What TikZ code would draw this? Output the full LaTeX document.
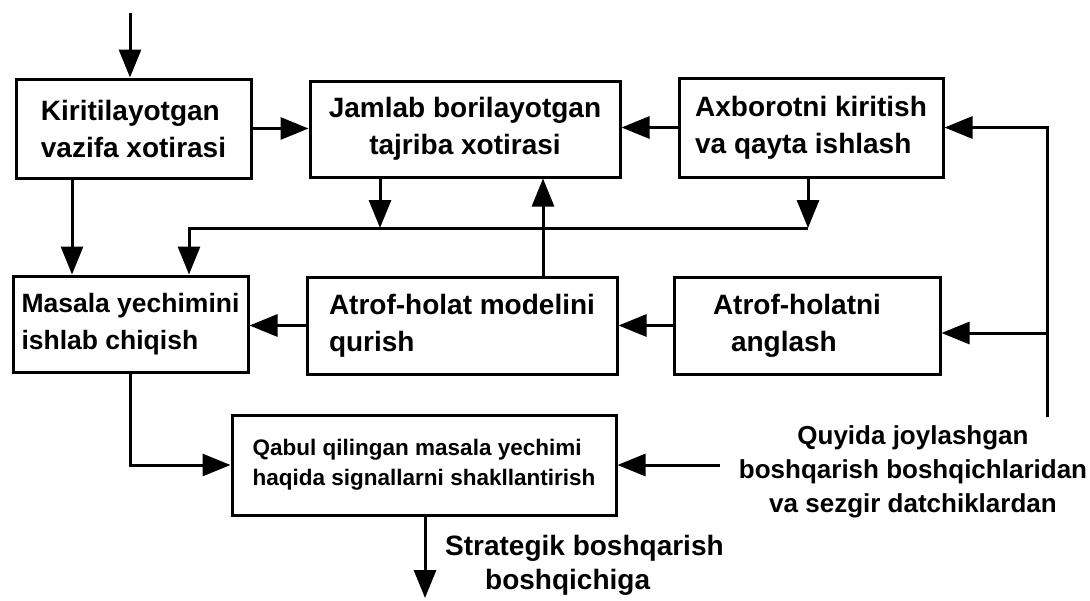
\documentclass[tikz,border=0pt]{standalone}
\usepackage{fontspec}
\setmainfont{Liberation Sans}
\usetikzlibrary{arrows.meta}
\begin{document}
\begin{tikzpicture}[x=1pt,y=-1pt,
  box/.style={draw, line width=3pt, inner sep=0pt, font=\bfseries\fontsize{28}{37}\selectfont},
  smallbox/.style={box, font=\bfseries\fontsize{22.5}{30}\selectfont},
  lab/.style={inner sep=0pt, font=\bfseries\fontsize{26}{34}\selectfont},
  con/.style={line width=3pt, -{Triangle[length=28pt,width=22pt]}},
  ln/.style={line width=3pt}]
\useasboundingbox (0,0) rectangle (1090,600);
% boxes
\node[box, minimum width=235pt, minimum height=99pt, align=left] (kir) at (133.5,128.5) {Kiritilayotgan\\vazifa xotirasi};
\node[box, minimum width=310pt, minimum height=96pt, align=center] (jam) at (465,129) {Jamlab borilayotgan\\tajriba xotirasi};
\node[box, minimum width=264pt, minimum height=99pt, align=left] (ax) at (811,127.5) {Axborotni kiritish\\va qayta ishlash};
\node[box, font=\bfseries\fontsize{26.5}{37}\selectfont, minimum width=235pt, minimum height=96pt, align=left] (mas) at (130.5,324) {Masala yechimini\\ishlab chiqish};
\node[box, minimum width=310pt, minimum height=97pt, align=left] (mod) at (462,325.5) {Atrof-holat modelini\\qurish};
\node[box, minimum width=266pt, minimum height=97pt, align=left] (an) at (807,325.5) {Atrof-holatni\hspace*{20pt}\\\hspace*{18pt}anglash};
\node[smallbox, minimum width=384pt, minimum height=100pt, align=left] (qab) at (424,465) {Qabul qilingan masala yechimi\\haqida signallarni shakllantirish};
% helper coordinates
\coordinate (top) at (130,13);
\coordinate (k72) at (72,0);
\coordinate (busR) at (808,228);
\coordinate (busL) at (189,228);
\coordinate (b2) at (380,228);
\coordinate (up) at (543,0);
\coordinate (fb) at (1047,417);
\coordinate (fb2) at (1047,333);
\coordinate (m130) at (130,465);
\coordinate (rin) at (720,465);
\coordinate (dn) at (425,598);
% connectors
\draw[con] (top) -- (top |- kir.north);
\draw[con] (kir.east) -- (kir.east -| jam.west);
\draw[con] (ax.west) -- (ax.west -| jam.east);
\draw[con] (kir.south -| k72) -- (mas.north -| k72);
\draw[con] (jam.south -| b2) -- (b2);
\draw[con] (ax.south -| busR) -- (busR);
\draw[con] (busR) -- (busL) -- (busL |- mas.north);
\draw[con] (mod.north -| up) -- (jam.south -| up);
\draw[con] (fb) -- (fb |- ax.east) -- (ax.east);
\draw[con] (fb2) -- (fb2 -| an.east);
\draw[con] (an.west) -- (an.west -| mod.east);
\draw[con] (mod.west) -- (mod.west -| mas.east);
\draw[con] (mas.south -| m130) -- (m130) -- (qab.west);
\draw[con] (rin) -- (qab.east);
\draw[con] (qab.south -| dn) -- (dn);
% labels
\node[lab, font=\bfseries\fontsize{28}{34}\selectfont, anchor=west, align=left] (strat) at (445,565) {Strategik boshqarish\\\hspace*{40pt}boshqichiga};
\node[lab, align=center] (quy) at (913,472) {Quyida joylashgan\\boshqarish boshqichlaridan\\va sezgir datchiklardan};
\end{tikzpicture}
\end{document}
